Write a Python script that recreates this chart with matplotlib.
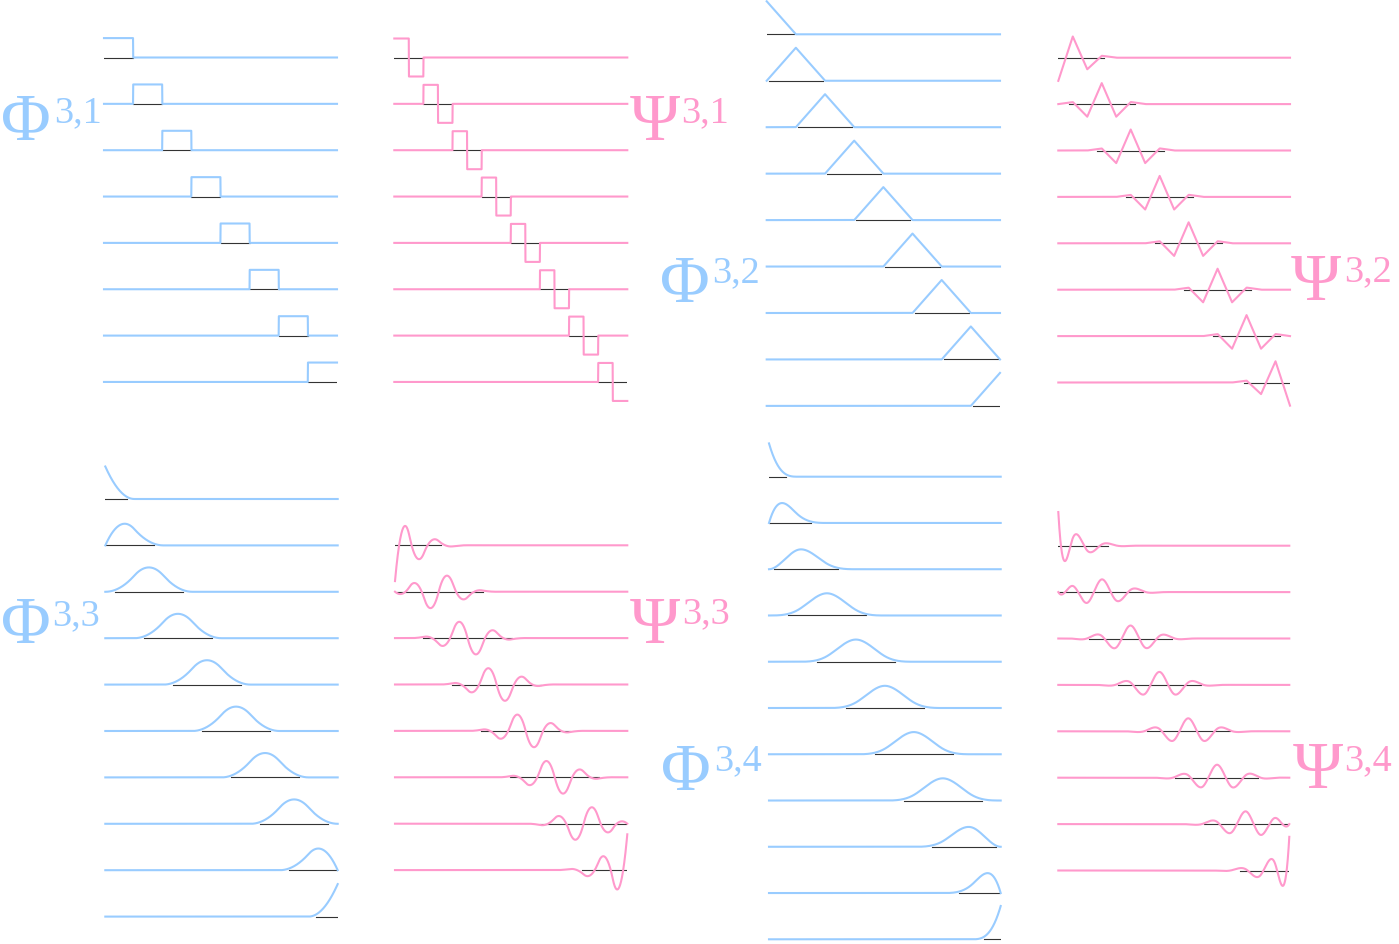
import numpy as np
import matplotlib
matplotlib.use("Agg")
import matplotlib.pyplot as plt

# level j=3 B-spline scaling functions (Phi) and wavelets (Psi), degree 0..3
# wavelet coefficients are on the level-4 B-splines, left half of each set;
# the right half is the mirror image
haar_mid = [1.0, -1.0]

lin_edge = [-5.196, 4.763, -2.598, 0.433]
lin_mid = [0.471, -2.828, 4.714, -2.828, 0.471]

quad_edge1 = [-7.172, 8.72, -5.19, 2.176, -0.424, 0.015]
quad_edge2 = [-1.306, 3.263, -5.828, 5.629, -2.709, 0.534, -0.018]
quad_mid = [-0.019, 0.545, -2.761, 5.691, -5.691, 2.761, -0.545, 0.019]

cub_edge1 = [8.926, -12.996, 10.373, -4.97, 1.798, -0.368, 0.027]
cub_edge2 = [-2.192, 5.999, -7.918, 8.553, -6.085, 2.545, -0.538, 0.04]
cub_edge3 = [0.133, -0.718, 2.874, -6.452, 8.361, -6.341, 2.708, -0.574, 0.042]
cub_mid = [0.043, -0.577, 2.721, -6.362, 8.352, -6.362, 2.721, -0.577, 0.043]

# (first level-4 basis index, coefficients) for wavelets 1..4
left_wavelets = {
    0: [(0, haar_mid), (2, haar_mid), (4, haar_mid), (6, haar_mid)],
    1: [(0, lin_edge), (1, lin_mid), (3, lin_mid), (5, lin_mid)],
    2: [(0, quad_edge1), (1, quad_edge2), (2, quad_mid), (4, quad_mid)],
    3: [(0, cub_edge1), (1, cub_edge2), (2, cub_edge3), (4, cub_mid)],
}
labels = ["3,1", "3,2", "3,3", "3,4"]

W, H = 1399, 944
BLUE = "#99ccff"
PINK = "#ff99cc"
t = np.linspace(0, 1, 2401)


def basis(p, n, x):
    # endpoint-interpolating B-splines of degree p on n uniform intervals
    kn = np.concatenate([np.zeros(p), np.linspace(0, 1, n + 1), np.ones(p)])
    m = len(kn) - 1
    B = np.zeros((x.size, m))
    for i in range(m):
        if kn[i] < kn[i + 1]:
            B[:, i] = (x >= kn[i]) & (x < kn[i + 1])
    B[x >= 1.0, p + n - 1] = 1.0
    for k in range(1, p + 1):
        Bn = np.zeros((x.size, m - k))
        for i in range(m - k):
            d1 = kn[i + k] - kn[i]
            d2 = kn[i + k + 1] - kn[i + 1]
            v = np.zeros(x.size)
            if d1 > 0:
                v += (x - kn[i]) / d1 * B[:, i]
            if d2 > 0:
                v += (kn[i + k + 1] - x) / d2 * B[:, i + 1]
            Bn[:, i] = v
        B = Bn
    return B


def wavelet_coefs(p):
    nf = 16 + p
    cols = []
    for start, c in left_wavelets[p]:
        v = np.zeros(nf)
        v[start:start + len(c)] = c
        cols.append(v)
    sign = (-1) ** (p + 1)
    return cols + [sign * v[::-1] for v in cols[::-1]]


fig = plt.figure(figsize=(W / 100, H / 100), dpi=100)
fig.patch.set_facecolor("white")


def draw_panel(funcs, x0, x1, b0, step, s, color, thr=0.07):
    for r, f in enumerate(funcs):
        b = b0 + r * step
        ax = fig.add_axes([x0 / W, 1 - (b + 23) / H, (x1 - x0) / W, 46 / H])
        ax.set_xlim(0, 1)
        ax.set_ylim(-23 / s, 23 / s)
        ax.axis("off")
        idx = np.flatnonzero(np.abs(f) > thr * np.abs(f).max())
        ax.plot([t[idx[0]], t[idx[-1]]], [0, 0], color="#333333", lw=0.8, zorder=1)
        ax.plot(t, f, color=color, lw=1.5, zorder=2, clip_on=False)


# degree, left, right, first baseline, row step, px per unit (Phi) / px of interior peak (Psi)
panels_phi = [(0, 104, 337, 57.5, 46.35, 19.4),
              (1, 766.7, 1000, 34.3, 46.45, 33.0),
              (2, 105.3, 337.7, 499, 46.4, 32.5),
              (3, 769, 1000.7, 476.7, 46.26, 33.3)]
panels_psi = [(0, 394.3, 627.3, 57.5, 46.35, 19.0),
              (1, 1058.3, 1290, 57.7, 46.4, 21.0),
              (2, 395, 627.3, 545.3, 46.4, 16.3),
              (3, 1058.3, 1289.3, 545.7, 46.4, 13.0)]

for p, x0, x1, b0, step, s in panels_phi:
    B = basis(p, 8, t)
    draw_panel([B[:, i] for i in range(B.shape[1])], x0, x1, b0, step, s, BLUE)

for p, x0, x1, b0, step, px in panels_psi:
    Bf = basis(p, 16, t)
    funcs = [Bf @ c for c in wavelet_coefs(p)]
    s = px / np.abs(funcs[3]).max()
    draw_panel(funcs, x0, x1, b0, step, s, PINK)


def label(greek, sup, x, y, xs, ys, color):
    fig.text(x / W, 1 - y / H, greek, fontsize=49, family="Liberation Serif",
             color=color, ha="left", va="baseline")
    fig.text(xs / W, 1 - ys / H, sup, fontsize=27.5, family="Liberation Serif",
             color=color, ha="left", va="baseline")


label("Φ", labels[0], 1, 140, 54, 122, BLUE)
label("Ψ", labels[0], 630, 140, 681, 122, PINK)
label("Φ", labels[1], 660, 301.7, 712, 281.7, BLUE)
label("Ψ", labels[1], 1291, 300, 1344, 281, PINK)
label("Φ", labels[2], 1, 643.3, 52, 625, BLUE)
label("Ψ", labels[2], 630, 643.3, 682, 623.3, PINK)
label("Φ", labels[3], 661, 790, 714, 770, BLUE)
label("Ψ", labels[3], 1293, 788.3, 1344, 770, PINK)

fig.savefig("out.png", dpi=100)
